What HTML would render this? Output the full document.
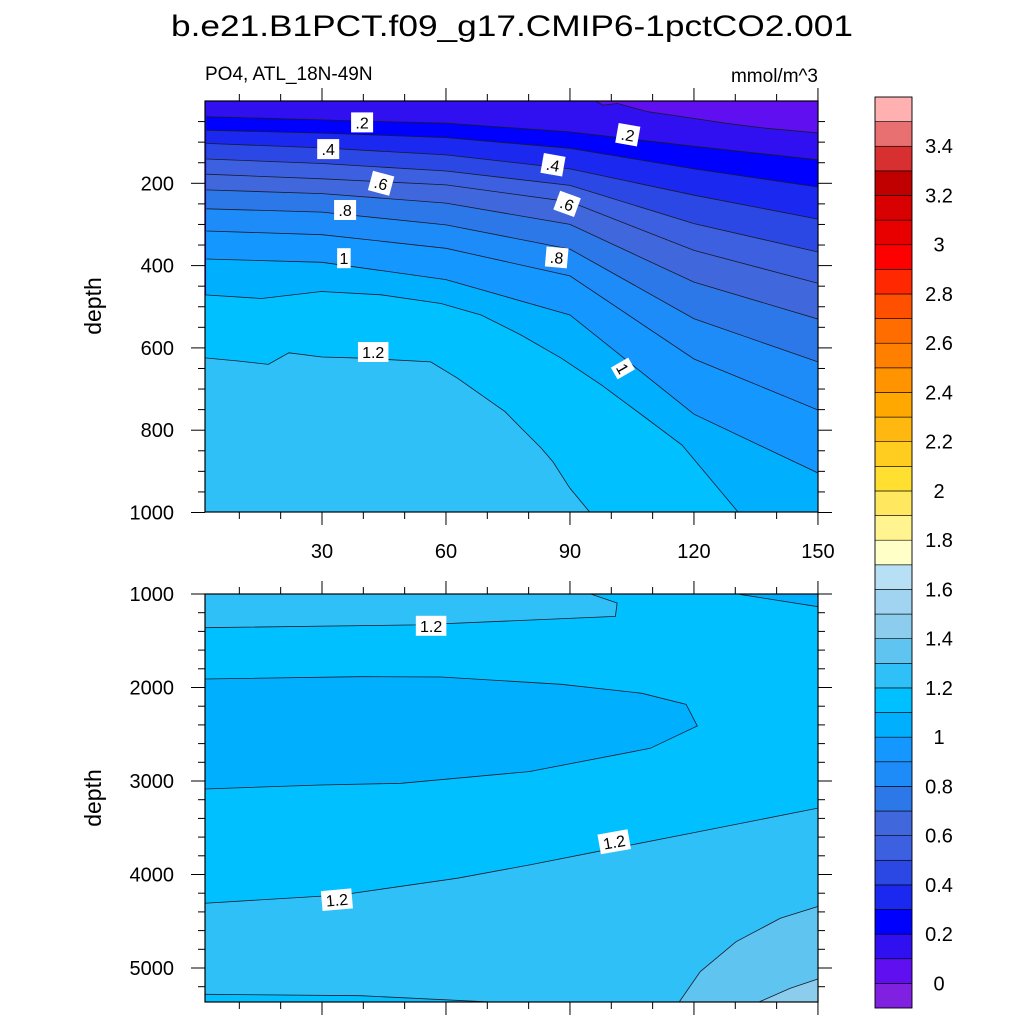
<!DOCTYPE html>
<html><head><meta charset="utf-8"><style>
html,body{margin:0;padding:0;background:#fff;}
svg{display:block;font-family:"Liberation Sans",Arial,sans-serif;}
</style></head><body>
<svg id="chart" xmlns="http://www.w3.org/2000/svg" width="1024" height="1024" viewBox="0 0 1024 1024">
<text x="512" y="36" font-size="30" text-anchor="middle" textLength="682" lengthAdjust="spacingAndGlyphs">b.e21.B1PCT.f09_g17.CMIP6-1pctCO2.001</text>
<text x="205" y="80" font-size="19">PO4, ATL_18N-49N</text>
<text x="818" y="82" font-size="19" text-anchor="end">mmol/m^3</text>
<text transform="translate(101,306) rotate(-90)" font-size="23" text-anchor="middle">depth</text>
<text transform="translate(101,798) rotate(-90)" font-size="23" text-anchor="middle">depth</text>
<defs>
<clipPath id="clipTop"><rect x="205" y="101" width="613" height="411"/></clipPath>
<clipPath id="clipBot"><rect x="205" y="594" width="613" height="408"/></clipPath>
</defs>
<g id="topPanel"></g>
<g id="botPanel"></g>
<g id="colorbar"></g>
</svg>
<script>
// ---- colour scale data ----
const cbLevels = [0,0.1,0.2,0.3,0.4,0.5,0.6,0.7,0.8,0.9,1.0,1.1,1.2,1.3,1.4,1.5,1.6,1.7,1.8,1.9,2.0,2.1,2.2,2.3,2.4,2.5,2.6,2.7,2.8,2.9,3.0,3.1,3.2,3.3,3.4,3.5];
const cbColors = ["#8020E0","#6010F0","#3010F0","#0000FF","#1A28F0","#2C48E4","#3C60E0","#4068DC","#2C78E8","#1E8CF8","#1498FF","#00B0FF","#00C0FF","#30C0F8","#60C4F0","#8CCCEC","#A0D4F0","#B8E0F4","#FFFFC8","#FFF490","#FFE860","#FFE030","#FFCC20","#FFB810","#FFA800","#FF9400","#FF8000","#FF6C00","#FF5000","#FF2800","#FF0000","#E80000","#D80000","#C00000","#D83030","#E87070","#FFB0B0"];
const cbTickLabels = ["0","0.2","0.4","0.6","0.8","1","1.2","1.4","1.6","1.8","2","2.2","2.4","2.6","2.8","3","3.2","3.4"];
const cbTickValues = [0,0.2,0.4,0.6,0.8,1.0,1.2,1.4,1.6,1.8,2.0,2.2,2.4,2.6,2.8,3.0,3.2,3.4];

// ---- axis data ----
const xTickValues = [30,60,90,120,150];
const xTickLabels = ["30","60","90","120","150"];
const topYTicks = [200,400,600,800,1000];
const botYTicks = [1000,2000,3000,4000,5000];

// ---- upper panel contours (value levels, years, depths) ----
const topGridYears = [2,30,60,90,120,150];
const topLevels = [0.2,0.3,0.4,0.5,0.6,0.7,0.8,0.9,1.0];
const topDepths = [
 [38,46,54,75,110,143],
 [71,78,89,115,165,209],
 [103,114,131,165,229,287],
 [141,152,170,205,298,367],
 [178,189,204,245,363,443],
 [216,225,248,300,440,530],
 [262,270,301,360,529,634],
 [316,325,358,425,627,751],
 [384,392,434,520,761,904]
];
const c11Years = [1.5,15.4,29.8,44.3,58.8,68.5,78.2,87.9,97.6,107.4,117.1,130.6,150];
const c11Depths = [471,480,463,471,492,520,569,625,690,763,836,998,1080];
const c12Years = [1.5,10,17,22,30,40,56.3,62.7,68.5,74.3,78.2,83,85.9,89.9,94.7,96];
const c12Depths = [624,632,640,612,622,625,634,673,714,755,795,843,877,940,998,1010];
const c01Years = [96.2,98,101.5,108.8,117.1,127.6,137.3,150.5];
const c01Depths = [0,10,6,26,38,54,66,78];

// ---- deep panel regions ----
const dTopBandYears = [1.5,53,101,101.4,95.2,95];
const dTopBandDepths = [1360,1330,1240,1096,1003,990];
const dCornerYears = [131,150.5];
const dCornerDepths = [1003,1139];
const dTongueYears = [1.45,39.3,58.8,87.9,107.4,118.1,120.8,109.4,80.1,49.1,29.6,1.45];
const dTongueDepths = [1909,1884,1888,1966,2062,2180,2412,2650,2900,3025,3043,3086];
const d12Years = [1.45,34.5,62.8,80.1,100.6,117.1,150.5];
const d12Depths = [4308,4219,4040,3898,3720,3578,3286];
const d13Years = [116.2,121.5,130.2,140.9,150.6];
const d13Depths = [5378,5040,4719,4468,4334];
const d14Years = [135,143.3,150.5];
const d14Depths = [5378,5217,5110];
const dBotYears = [1.45,39.3,72.3];
const dBotDepths = [5281,5296,5367];

const NS = "http://www.w3.org/2000/svg";
function el(tag, attrs, parent){ const e=document.createElementNS(NS,tag); for(const k in attrs) e.setAttribute(k,attrs[k]); if(parent) parent.appendChild(e); return e; }
function colorOf(v){
  let i=0; while(i<cbLevels.length && cbLevels[i] <= v+1e-6) i++; return cbColors[i];
}
const X = yr => 198 + 4.133*yr;
const YT = d => 101 + 0.4115*d;
const YB = d => 594 + 0.0935*(d-1000);

const topG = document.getElementById('topPanel');
const botG = document.getElementById('botPanel');
const gT = el('g',{'clip-path':'url(#clipTop)'},topG);
const gB = el('g',{'clip-path':'url(#clipBot)'},botG);

function pts(xs, ds, Y){ return xs.map((x,i)=>X(x).toFixed(1)+','+Y(ds[i]).toFixed(1)); }

// upper panel
let r = el('rect',{x:205,y:101,width:613,height:411,fill:colorOf(0.1)},gT);


const topLines = topLevels.map((lv,i)=>({lv, xs:topGridYears, ds:topDepths[i]}));
topLines.push({lv:1.1, xs:c11Years, ds:c11Depths});
topLines.push({lv:1.2, xs:c12Years, ds:c12Depths});
topLines.forEach(c=>{
  const p = pts(c.xs,c.ds,YT);
  p.push(X(c.xs[c.xs.length-1]).toFixed(1)+','+YT(2000)); p.push(X(c.xs[0])+','+YT(2000));
  const poly = el('polygon',{points:p.join(' '),fill:colorOf(c.lv)},gT);
  
  
});
{
  const p = pts(c01Years,c01Depths,YT); p.push(X(151)+','+YT(-10)); p.push(X(96)+','+YT(-10));
  const poly = el('polygon',{points:p.join(' '),fill:colorOf(0.0)},gT);
  
  
}
topLines.concat([{lv:0.1,xs:c01Years,ds:c01Depths}]).forEach(c=>{
  const l = el('polyline',{points:pts(c.xs,c.ds,YT).join(' '),fill:'none',stroke:'#1a1a2a','stroke-width':0.8},gT);
  
  
});

// deep panel
r = el('rect',{x:205,y:594,width:613,height:408,fill:colorOf(1.1)},gB);


const deepRegions = [
  {name:'deep-band-1.2-top', xs:dTopBandYears, ds:dTopBandDepths, v:1.2, close:[[0,900],[0,1360]]},
  {name:'deep-band-1.0-corner', xs:dCornerYears, ds:dCornerDepths, v:1.0, close:[[152,900],[130,900]]},
  {name:'deep-band-1.0-tongue', xs:dTongueYears, ds:dTongueDepths, v:1.0, close:[[0,3086],[0,1909]]},
  {name:'deep-band-1.2-bottom', xs:d12Years, ds:d12Depths, v:1.2, close:[[152,6000],[0,6000]]},
  {name:'deep-band-1.3', xs:d13Years, ds:d13Depths, v:1.3, close:[[152,6000]]},
  {name:'deep-band-1.4', xs:d14Years, ds:d14Depths, v:1.4, close:[[152,6000]]},
  {name:'deep-band-1.1-bottom', xs:dBotYears, ds:dBotDepths, v:1.1, close:[[0,6000]]}
];
deepRegions.forEach(g=>{
  const p = pts(g.xs,g.ds,YB).concat(g.close.map(c=>X(c[0])+','+YB(c[1])));
  const poly = el('polygon',{points:p.join(' '),fill:colorOf(g.v)},gB);
  
  
  const l = el('polyline',{points:pts(g.xs,g.ds,YB).join(' '),fill:'none',stroke:'#1a1a2a','stroke-width':0.8},gB);
  
  
});

// contour labels
const labelText = [".2",".2",".4",".4",".6",".6",".8",".8","1","1","1.2","1.2","1.2","1.2"];
const labelYear = [39.7,104,31.5,85.9,44.3,89.3,35.6,86.8,35.3,102.8,42.4,56.4,100.7,33.6];
const labelDepth = [52,82,117,155,200,250,265,380,382,650,610,1340,3650,4270];
const labelAngle = [0,10,0,10,15,20,0,5,0,60,0,0,-10,-5];
const labelPanel = ["t","t","t","t","t","t","t","t","t","t","t","b","b","b"];
labelText.forEach((t,i)=>{
  const cx = X(labelYear[i]), cy = labelPanel[i]==='t'?YT(labelDepth[i]):YB(labelDepth[i]);
  const g = el('g',{transform:`translate(${cx.toFixed(1)},${cy.toFixed(1)}) rotate(${labelAngle[i]})`}, labelPanel[i]==='t'?topG:botG);
  
  
  const w = t.length*8.5+5;
  el('rect',{x:-w/2,y:-10,width:w,height:20,fill:'#fff'},g);
  const tx = el('text',{x:0,y:6,'font-size':16,'text-anchor':'middle',fill:'#000'},g);
  tx.textContent = t;
});

// frames & ticks
function frame(parent, y0, y1, yTicks, Y, minorStep, dmin, dmax, showXLabels, prefix){
  const f = el('rect',{x:205,y:y0,width:613,height:y1-y0,fill:'none',stroke:'#000','stroke-width':1.2},parent);
  
  
  for(let yr=10; yr<=150; yr+=10){
    const major = yr%30===0, L = major?13:7, x = X(yr);
    el('line',{x1:x,x2:x,y1:y1,y2:y1+L,stroke:'#000','stroke-width':1},parent);
    el('line',{x1:x,x2:x,y1:y0,y2:y0-L,stroke:'#000','stroke-width':1},parent);
  }
  for(let d=Math.ceil(dmin/minorStep)*minorStep; d<=dmax; d+=minorStep){
    const major = yTicks.includes(d), L = major?14:7, y=Y(d);
    el('line',{x1:205,x2:205-L,y1:y,y2:y,stroke:'#000','stroke-width':1},parent);
    el('line',{x1:818,x2:818+L,y1:y,y2:y,stroke:'#000','stroke-width':1},parent);
  }
  yTicks.forEach(d=>{
    const t = el('text',{x:174,y:Y(d)+7,'font-size':20,'text-anchor':'end'},parent);
    
    
    t.textContent = d;
  });
  if(showXLabels) xTickValues.forEach((v,i)=>{
    const t = el('text',{x:X(v),y:558,'font-size':20,'text-anchor':'middle'},parent);
    
    
    t.textContent = xTickLabels[i];
  });
}
frame(topG,101,512,topYTicks,YT,50,50,1000,true,'top');
frame(botG,594,1002,botYTicks,YB,200,1000,5300,false,'bottom');

// colorbar
const cb = document.getElementById('colorbar');
const cbTop = 97, cbBot = 1008, n = cbColors.length, h = (cbBot-cbTop)/n;
cbColors.forEach((c,i)=>{
  const b = el('rect',{x:875,y:(cbBot-(i+1)*h).toFixed(2),width:37,height:h.toFixed(2),fill:c,stroke:'#000','stroke-width':0.6},cb);
  
  
});
el('rect',{x:875,y:cbTop,width:37,height:cbBot-cbTop,fill:'none',stroke:'#000','stroke-width':0.8},cb);
cbTickValues.forEach((v,i)=>{
  const y = cbBot - h*(1 + v/0.1);
  const t = el('text',{x:939,y:y+7,'font-size':20,'text-anchor':'middle'},cb);
  
  
  t.textContent = cbTickLabels[i];
});
</script>
</body></html>
